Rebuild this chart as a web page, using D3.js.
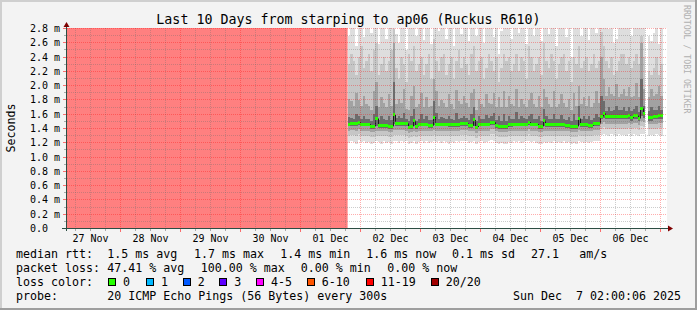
<!DOCTYPE html>
<html>
<head>
<meta charset="utf-8">
<script src="https://cdn.jsdelivr.net/npm/d3@7"></script>
<style>
  html, body { margin: 0; padding: 0; background: #f3f3f3; }
  svg { display: block; }
  text { font-family: "DejaVu Sans Mono", monospace; white-space: pre; fill: #000; }
</style>
</head>
<body>
<div id="chart"></div>
<script>

// ---- data ----
var title = "Last 10 Days from starping to ap06 (Ruckus R610)";
var startTime = new Date(2025, 10, 27, 2, 0, 6);
var endTime = new Date(2025, 11, 7, 2, 0, 6);
var firstHour = new Date(2025, 11, 1, 18, 0, 0);   // first hourly column

var yTickValues = [0, 0.2, 0.4, 0.6, 0.8, 1.0, 1.2, 1.4, 1.6, 1.8, 2.0, 2.2, 2.4, 2.6, 2.8];
var yMinorValues = [0.1, 0.3, 0.5, 0.7, 0.9, 1.1, 1.3, 1.5, 1.7, 1.9, 2.1, 2.3, 2.5, 2.7];

// 100% loss periods (no answer at all)
var lossSpanStart = [new Date(2025, 10, 27, 2, 0, 6), new Date(2025, 11, 1, 18, 30)];
var lossSpanEnd = [new Date(2025, 11, 1, 18, 30), new Date(2025, 11, 1, 19, 0)];
var lossSpanFill = ["#ff8080", "#ffb0b0"];

// hourly median rtt (ms)
var median = [
  null,1.46,1.47,1.47,1.47,1.49,1.46,1.46,1.46,1.46,1.43,1.43,1.54,1.44,1.44,1.44,
  1.44,1.43,1.43,1.59,1.47,1.47,1.47,1.47,1.47,1.42,1.43,1.51,1.43,1.46,1.46,1.46,
  1.46,1.44,1.44,1.56,1.46,1.46,1.46,1.46,1.46,1.45,1.45,1.45,1.45,1.45,1.47,1.47,
  1.47,1.44,1.44,1.52,1.42,1.46,1.46,1.46,1.46,1.46,1.49,1.49,1.44,1.43,1.43,1.43,
  1.43,1.45,1.45,1.46,1.46,1.46,1.46,1.46,1.46,1.49,1.46,1.46,1.46,1.43,1.43,1.51,
  1.45,1.45,1.45,1.45,1.45,1.45,1.45,1.45,1.44,1.44,1.43,1.43,1.43,1.54,1.45,1.45,
  1.45,1.44,1.44,1.47,1.47,1.47,1.57,1.61,1.57,1.57,1.57,1.57,1.57,1.57,1.57,1.57,
  1.57,1.58,1.55,1.58,1.58,1.54,1.68,1.61,null,1.55,1.55,1.57,1.57,1.58,1.58,null
];

// smoke: sorted ping ranks per hour (ms)
var pingP20 = [
  null,2.70,3.10,3.20,2.55,2.95,3.30,2.68,3.05,3.15,2.74,3.40,3.30,2.58,2.90,3.10,
  2.66,3.00,3.20,3.50,2.72,2.60,3.10,2.95,2.50,3.20,3.05,3.30,2.70,3.00,3.10,2.64,
  2.90,3.20,2.58,3.40,3.00,2.76,3.10,3.20,2.66,2.95,3.15,2.55,3.00,3.30,2.72,3.10,
  2.95,2.62,3.20,3.30,2.70,3.00,3.15,2.60,2.90,3.20,3.05,2.68,3.10,2.45,2.76,3.20,
  3.00,3.10,2.66,2.95,3.20,2.74,3.10,3.00,2.58,3.30,3.10,2.70,2.95,3.15,2.62,3.40,
  3.00,2.72,3.20,3.05,2.55,2.95,3.10,3.20,2.68,3.00,2.40,3.10,2.90,3.30,2.70,3.05,
  3.15,2.64,2.95,3.20,2.74,3.00,3.40,3.20,3.00,2.80,3.10,2.60,2.65,3.00,3.20,3.20,
  2.95,3.10,2.70,3.05,3.20,2.95,3.40,3.00,null,2.70,2.62,2.74,3.10,2.58,2.85,null
];
var pingP18 = [
  null,2.30,2.45,2.35,2.15,2.40,2.55,2.25,2.35,2.45,2.20,2.50,2.60,2.15,2.30,2.40,
  2.20,2.35,2.50,2.80,2.25,2.10,2.40,2.30,2.05,2.45,2.35,2.55,2.20,2.30,2.40,2.15,
  2.30,2.45,2.10,2.65,2.35,2.20,2.40,2.45,2.15,2.30,2.40,2.10,2.35,2.50,2.25,2.40,
  2.30,2.15,2.45,2.55,2.20,2.35,2.40,2.10,2.25,2.45,2.35,2.20,2.40,2.05,2.25,2.45,
  2.35,2.40,2.20,2.30,2.45,2.20,2.40,2.35,2.10,2.55,2.40,2.20,2.30,2.40,2.15,2.60,
  2.35,2.25,2.45,2.35,2.10,2.30,2.40,2.45,2.20,2.35,2.05,2.40,2.30,2.55,2.25,2.35,
  2.40,2.20,2.30,2.45,2.25,2.35,2.75,2.55,2.35,2.25,2.40,2.15,2.20,2.35,2.45,2.45,
  2.30,2.40,2.25,2.35,2.45,2.30,2.70,2.40,null,2.20,2.15,2.25,2.40,2.15,2.30,null
];
var pingP15 = [
  null,1.82,1.78,1.72,1.90,1.80,1.72,1.86,1.75,1.72,1.66,1.92,2.05,1.70,1.84,1.76,
  1.70,1.88,1.72,2.60,1.74,1.82,1.76,1.95,1.68,1.66,1.86,2.00,1.70,1.74,1.90,1.70,
  1.84,1.70,1.72,2.10,1.92,1.72,1.80,1.76,1.70,1.88,1.74,1.68,1.94,1.78,1.74,1.86,
  1.76,1.70,1.90,1.95,1.66,1.82,1.74,1.70,1.88,1.76,1.74,1.90,1.70,1.84,1.70,1.92,
  1.70,1.86,1.74,1.72,1.96,1.70,1.82,1.74,1.70,1.80,1.90,1.74,1.70,1.86,1.70,1.95,
  1.84,1.74,1.70,1.92,1.70,1.74,1.88,1.76,1.70,1.82,1.66,1.90,1.72,2.00,1.74,1.84,
  1.72,1.86,1.70,1.76,1.92,1.76,2.40,2.10,1.86,1.98,1.88,1.85,2.02,1.84,1.88,1.96,
  1.86,1.98,1.84,1.86,2.04,1.84,2.60,1.95,null,1.84,1.96,1.86,1.88,2.00,1.86,null
];
var pingP12 = [
  null,1.56,1.55,1.54,1.60,1.57,1.54,1.58,1.54,1.54,1.51,1.60,1.72,1.52,1.57,1.53,
  1.52,1.58,1.52,2.05,1.55,1.58,1.55,1.62,1.54,1.50,1.57,1.68,1.51,1.54,1.60,1.53,
  1.57,1.52,1.52,1.78,1.62,1.54,1.56,1.55,1.54,1.58,1.54,1.52,1.62,1.54,1.55,1.58,
  1.55,1.52,1.60,1.70,1.50,1.57,1.54,1.54,1.59,1.55,1.57,1.62,1.52,1.57,1.51,1.61,
  1.51,1.58,1.53,1.54,1.63,1.54,1.57,1.55,1.54,1.57,1.61,1.54,1.54,1.58,1.51,1.68,
  1.57,1.53,1.53,1.61,1.53,1.53,1.59,1.53,1.52,1.56,1.51,1.60,1.52,1.72,1.53,1.57,
  1.53,1.58,1.52,1.55,1.61,1.56,1.85,1.78,1.65,1.70,1.65,1.66,1.72,1.66,1.66,1.70,
  1.65,1.70,1.64,1.67,1.72,1.63,2.10,1.72,null,1.64,1.70,1.66,1.66,1.71,1.66,null
];
var pingP09 = [
  null,1.43,1.44,1.44,1.44,1.45,1.43,1.43,1.43,1.43,1.40,1.40,1.44,1.41,1.41,1.41,
  1.41,1.40,1.40,1.46,1.44,1.44,1.44,1.44,1.44,1.39,1.40,1.44,1.40,1.43,1.43,1.43,
  1.43,1.41,1.41,1.45,1.43,1.43,1.43,1.43,1.43,1.42,1.42,1.42,1.42,1.42,1.44,1.44,
  1.44,1.41,1.41,1.44,1.39,1.43,1.43,1.43,1.43,1.43,1.45,1.45,1.41,1.40,1.40,1.40,
  1.40,1.42,1.42,1.43,1.43,1.43,1.43,1.43,1.43,1.45,1.43,1.43,1.43,1.40,1.40,1.44,
  1.42,1.42,1.42,1.42,1.42,1.42,1.42,1.42,1.41,1.41,1.40,1.40,1.40,1.45,1.42,1.42,
  1.42,1.41,1.41,1.44,1.44,1.44,1.53,1.55,1.53,1.53,1.53,1.53,1.53,1.53,1.53,1.53,
  1.53,1.54,1.51,1.54,1.54,1.50,1.58,1.55,null,1.51,1.51,1.53,1.53,1.54,1.54,null
];
var pingP06 = [
  null,1.37,1.38,1.38,1.37,1.39,1.37,1.37,1.37,1.37,1.35,1.35,1.37,1.36,1.36,1.36,
  1.36,1.35,1.35,1.38,1.38,1.38,1.38,1.38,1.37,1.34,1.35,1.37,1.35,1.37,1.37,1.37,
  1.37,1.36,1.36,1.38,1.37,1.37,1.37,1.37,1.37,1.36,1.36,1.36,1.36,1.36,1.38,1.38,
  1.38,1.36,1.36,1.37,1.34,1.37,1.37,1.37,1.37,1.37,1.39,1.39,1.36,1.35,1.35,1.35,
  1.35,1.36,1.36,1.37,1.37,1.37,1.37,1.37,1.37,1.39,1.37,1.37,1.37,1.35,1.35,1.37,
  1.36,1.36,1.36,1.36,1.36,1.36,1.36,1.36,1.36,1.36,1.35,1.35,1.35,1.38,1.36,1.36,
  1.36,1.36,1.36,1.38,1.38,1.38,1.47,1.49,1.47,1.47,1.47,1.47,1.47,1.47,1.47,1.47,
  1.47,1.48,1.46,1.48,1.48,1.45,1.51,1.49,null,1.46,1.46,1.47,1.47,1.48,1.48,null
];
var pingP03 = [
  null,1.30,1.31,1.31,1.30,1.32,1.30,1.30,1.30,1.30,1.28,1.28,1.30,1.29,1.29,1.29,
  1.29,1.28,1.28,1.31,1.31,1.31,1.31,1.31,1.30,1.27,1.28,1.30,1.28,1.30,1.30,1.30,
  1.30,1.29,1.29,1.31,1.30,1.30,1.30,1.30,1.30,1.29,1.29,1.29,1.29,1.29,1.31,1.31,
  1.31,1.29,1.29,1.30,1.27,1.30,1.30,1.30,1.30,1.30,1.32,1.32,1.29,1.28,1.28,1.28,
  1.28,1.29,1.29,1.30,1.30,1.30,1.30,1.30,1.30,1.32,1.30,1.30,1.30,1.28,1.28,1.30,
  1.29,1.29,1.29,1.29,1.29,1.29,1.29,1.29,1.29,1.29,1.28,1.28,1.28,1.31,1.29,1.29,
  1.29,1.29,1.29,1.31,1.31,1.31,1.40,1.42,1.40,1.40,1.40,1.40,1.40,1.40,1.40,1.40,
  1.40,1.41,1.39,1.41,1.41,1.38,1.44,1.42,null,1.39,1.39,1.40,1.40,1.41,1.41,null
];
var pingP01 = [
  null,1.20,1.23,1.21,1.19,1.24,1.21,1.22,1.20,1.21,1.18,1.20,1.22,1.21,1.19,1.22,
  1.20,1.21,1.19,1.23,1.22,1.20,1.23,1.21,1.22,1.18,1.20,1.22,1.19,1.21,1.22,1.20,
  1.22,1.20,1.21,1.23,1.21,1.22,1.20,1.22,1.21,1.19,1.21,1.20,1.22,1.21,1.23,1.22,
  1.23,1.20,1.21,1.22,1.18,1.21,1.22,1.20,1.21,1.22,1.24,1.23,1.20,1.19,1.20,1.19,
  1.19,1.21,1.20,1.22,1.21,1.22,1.20,1.21,1.22,1.23,1.21,1.22,1.20,1.19,1.18,1.21,
  1.20,1.21,1.20,1.22,1.20,1.21,1.20,1.22,1.20,1.21,1.19,1.20,1.19,1.22,1.21,1.20,
  1.21,1.20,1.21,1.22,1.22,1.23,1.31,1.33,1.31,1.30,1.32,1.31,1.30,1.32,1.31,1.31,
  1.30,1.32,1.30,1.32,1.31,1.29,1.33,1.32,null,1.30,1.31,1.30,1.32,1.31,1.30,null
];

// legend figures
var rttLabels = ["avg", "max", "min", "now", "sd"];
var rttValues = [1.5, 1.7, 1.4, 1.6, 0.1];
var amPerS = 27.1;
var lossLabels = ["avg", "max", "min", "now"];
var lossValues = [47.41, 100.00, 0.00, 0.00];
var lossColorLabels = ["0", "1", "2", "3", "4-5", "6-10", "11-19", "20/20"];
var lossColors = ["#26ff00", "#00b8ff", "#0059ff", "#5e00ff", "#ff00ff", "#ff5500", "#ff0000", "#a10000"];
var probeText = "20 ICMP Echo Pings (56 Bytes) every 300s";
var stampText = "Sun Dec  7 02:00:06 2025";

// ---- drawing ----
var width = 697, height = 310;
var plotLeft = 67, plotRight = 667, plotTop = 28, plotBottom = 228.5;

var svg = d3.select("#chart")
  .append("svg")
    .attr("width", width)
    .attr("height", height);

// background + rrdtool shading frame
svg.append("rect").attr("width", width).attr("height", height).attr("fill", "#f3f3f3");
svg.append("rect").attr("x", 0).attr("y", 0).attr("width", width).attr("height", 2).attr("fill", "#cfcfcf");
svg.append("rect").attr("x", 0).attr("y", 0).attr("width", 2).attr("height", height).attr("fill", "#cfcfcf");
svg.append("rect").attr("x", 0).attr("y", height - 2).attr("width", width).attr("height", 2).attr("fill", "#9e9e9e");
svg.append("rect").attr("x", width - 2).attr("y", 0).attr("width", 2).attr("height", height).attr("fill", "#9e9e9e");

var x = d3.scaleTime().domain([startTime, endTime]).range([65.5, 665.5]);
var y = d3.scaleLinear().domain([0, 2.8]).range([228.5, 28.5]);

svg.append("clipPath").attr("id", "plotclip")
  .append("rect")
    .attr("x", plotLeft).attr("y", plotTop)
    .attr("width", plotRight - plotLeft).attr("height", plotBottom - plotTop);

// canvas
svg.append("rect")
  .attr("x", plotLeft).attr("y", plotTop)
  .attr("width", plotRight - plotLeft).attr("height", plotBottom - plotTop)
  .attr("fill", "#ffffff");

var plot = svg.append("g").attr("clip-path", "url(#plotclip)");

// loss background
plot.selectAll("rect.loss")
  .data(lossSpanStart)
  .enter().append("rect")
    .attr("class", "loss")
    .attr("x", function(d){ return x(d); })
    .attr("width", function(d, i){ return x(lossSpanEnd[i]) - x(d); })
    .attr("y", plotTop)
    .attr("height", plotBottom - plotTop)
    .attr("fill", function(d, i){ return lossSpanFill[i]; })
    .attr("shape-rendering", "crispEdges");

// hourly column edges
function colX0(i){ return x(d3.timeHour.offset(firstHour, i)); }
function colX1(i){ return x(d3.timeHour.offset(firstHour, i + 1)); }

var cols = median.map(function(d, i){ return i; });

// smoke: outer pair first, darker inner pairs on top
var bands = [
  { lo: pingP01, hi: pingP20, color: "#dedede" },
  { lo: pingP03, hi: pingP18, color: "#c6c6c6" },
  { lo: pingP06, hi: pingP15, color: "#a2a2a2" },
  { lo: pingP09, hi: pingP12, color: "#6c6c6c" }
];
bands.forEach(function(b){
  plot.append("g")
    .selectAll("rect")
    .data(cols.filter(function(i){ return b.lo[i] != null; }))
    .enter().append("rect")
      .attr("x", function(i){ return colX0(i); })
      .attr("width", function(i){ return colX1(i) - colX0(i); })
      .attr("y", function(i){ return y(b.hi[i]); })
      .attr("height", function(i){ return y(b.lo[i]) - y(b.hi[i]); })
      .attr("fill", b.color)
      .attr("shape-rendering", "crispEdges");
});

// median: dark step connectors, then loss-coloured band (0 loss all along here)
plot.append("g")
  .selectAll("line")
  .data(cols.filter(function(i){
    return median[i] != null && median[i + 1] != null && median[i] !== median[i + 1];
  }))
  .enter().append("line")
    .attr("x1", function(i){ return Math.round(colX1(i)) + 0.5; })
    .attr("x2", function(i){ return Math.round(colX1(i)) + 0.5; })
    .attr("y1", function(i){ return y(median[i]); })
    .attr("y2", function(i){ return y(median[i + 1]); })
    .attr("stroke", "#1c1c1c")
    .attr("stroke-width", 1);

plot.append("g")
  .selectAll("rect")
  .data(cols.filter(function(i){ return median[i] != null; }))
  .enter().append("rect")
    .attr("x", function(i){ return colX0(i); })
    .attr("width", function(i){ return colX1(i) - colX0(i); })
    .attr("y", function(i){ return y(median[i]) - 1.5; })
    .attr("height", 3)
    .attr("fill", lossColors[0])
    .attr("shape-rendering", "crispEdges");

// grid, drawn over the graph like rrdtool does
var minorCol = "rgba(110,110,110,0.35)", majorCol = "rgba(255,0,0,0.32)";
var hours6 = d3.timeHour.every(6).range(startTime, endTime);
var vMinor = hours6.filter(function(d){ return d.getHours() !== 0; });
var vMajor = d3.timeDay.range(startTime, endTime);
function py(v){ return Math.round(y(v) - 0.5) + 0.5; }
function px(t){ return Math.floor(x(t)) + 0.5; }

var grid = svg.append("g");
grid.selectAll("line.hmin")
  .data(yMinorValues)
  .enter().append("line")
    .attr("x1", plotLeft).attr("x2", plotRight)
    .attr("y1", py).attr("y2", py)
    .attr("stroke", minorCol)
    .attr("stroke-dasharray", "1,1");
grid.selectAll("line.vmin")
  .data(vMinor)
  .enter().append("line")
    .attr("x1", px).attr("x2", px)
    .attr("y1", plotTop).attr("y2", plotBottom)
    .attr("stroke", minorCol)
    .attr("stroke-dasharray", "1,1");
grid.selectAll("line.hmaj")
  .data(yTickValues.slice(1))
  .enter().append("line")
    .attr("x1", plotLeft).attr("x2", plotRight)
    .attr("y1", py).attr("y2", py)
    .attr("stroke", majorCol)
    .attr("stroke-dasharray", "1,1");
grid.selectAll("line.vmaj")
  .data(vMajor)
  .enter().append("line")
    .attr("x1", px).attr("x2", px)
    .attr("y1", plotTop).attr("y2", plotBottom)
    .attr("stroke", majorCol)
    .attr("stroke-dasharray", "1,1");

// ticks
var ticks = svg.append("g");
ticks.selectAll("line.xt")
  .data(hours6)
  .enter().append("line")
    .attr("x1", px).attr("x2", px)
    .attr("y1", 229)
    .attr("y2", function(d){ return d.getHours() === 0 ? 232 : 231; })
    .attr("stroke", function(d){ return d.getHours() === 0 ? "rgba(255,0,0,0.55)" : "rgba(120,120,120,0.6)"; });
ticks.selectAll("line.yt")
  .data(yTickValues.concat(yMinorValues))
  .enter().append("line")
    .attr("y1", py).attr("y2", py)
    .attr("x1", function(d){ return yTickValues.indexOf(d) >= 0 ? 63 : 64; })
    .attr("x2", 66)
    .attr("stroke", function(d){ return yTickValues.indexOf(d) >= 0 ? "rgba(255,0,0,0.55)" : "rgba(120,120,120,0.6)"; });

// axes with arrows
svg.append("line").attr("x1", 62).attr("x2", 668).attr("y1", 228.5).attr("y2", 228.5)
  .attr("stroke", "#2c4d43");
svg.append("line").attr("x1", 66.5).attr("x2", 66.5).attr("y1", 231).attr("y2", 26)
  .attr("stroke", "#2c4d43");
svg.append("path").attr("d", "M668,225.5L673,228.5L668,231.5Z").attr("fill", "#7f0000");
svg.append("path").attr("d", "M63.5,27L66.5,22L69.5,27Z").attr("fill", "#7f0000");

// axis labels
svg.append("g").selectAll("text")
  .data(yTickValues)
  .enter().append("text")
    .attr("x", 30)
    .attr("y", function(d){ return py(d) + 3.8; })
    .style("font-size", "10px")
    .text(function(d){ return d === 0 ? "0.0" : d3.format(".1f")(d) + " m"; });

var labelDays = d3.timeDay.range(d3.timeDay.floor(startTime), d3.timeDay.floor(endTime))
  .map(function(d){ return d3.timeHour.offset(d, 12); });
svg.append("g").selectAll("text")
  .data(labelDays)
  .enter().append("text")
    .attr("x", function(d){ return x(d); })
    .attr("y", 241.6)
    .attr("text-anchor", "middle")
    .style("font-size", "10px")
    .text(function(d){ return d3.timeFormat("%d %b")(d); });

// title, y label, watermark
svg.append("text")
  .attr("x", 348.5).attr("y", 23.8)
  .attr("text-anchor", "middle")
  .style("font-size", "13.3px")
  .text(title);

svg.append("text")
  .attr("transform", "translate(15,128) rotate(-90)")
  .attr("text-anchor", "middle")
  .style("font-size", "11.6px")
  .text("Seconds");

svg.append("text")
  .attr("transform", "translate(684,5) rotate(90)")
  .style("font-size", "8.2px")
  .style("fill", "#b0b0b0")
  .text("RRDTOOL / TOBI OETIKER");

// legend
var leg = svg.append("g").style("font-size", "11.63px");
var rttX = [107.3, 194, 280.3, 366.2, 452];
leg.append("text").attr("x", 16).attr("y", 258.3).text("median rtt:");
rttValues.forEach(function(v, i){
  leg.append("text").attr("x", rttX[i]).attr("y", 258.3)
    .text(d3.format(".1f")(v) + " ms " + rttLabels[i]);
});
leg.append("text").attr("x", 531).attr("y", 258.3).text(d3.format(".1f")(amPerS));
leg.append("text").attr("x", 579.3).attr("y", 258.3).text("am/s");

var lossX = [107.3, 200.8, 300.8, 387.3];
leg.append("text").attr("x", 16).attr("y", 272.3).text("packet loss:");
lossValues.forEach(function(v, i){
  leg.append("text").attr("x", lossX[i]).attr("y", 272.3)
    .text(d3.format(".2f")(v) + " % " + lossLabels[i]);
});

var boxX = [108, 146, 182.7, 219.3, 256, 306.7, 365.7, 430.7];
leg.append("text").attr("x", 16).attr("y", 286.3).text("loss color:");
lossColorLabels.forEach(function(l, i){
  var bx = Math.round(boxX[i]);
  leg.append("rect")
    .attr("x", bx + 0.5).attr("y", 278.5).attr("width", 7).attr("height", 7)
    .attr("fill", lossColors[i]).attr("stroke", "#000").attr("stroke-width", 1);
  leg.append("text").attr("x", boxX[i] + 15).attr("y", 286.3).text(l);
});

leg.append("text").attr("x", 16).attr("y", 300.3).text("probe:");
leg.append("text").attr("x", 107.3).attr("y", 300.3).text(probeText);
leg.append("text").attr("x", 681).attr("y", 300.3).attr("text-anchor", "end").text(stampText);

</script>
</body>
</html>
